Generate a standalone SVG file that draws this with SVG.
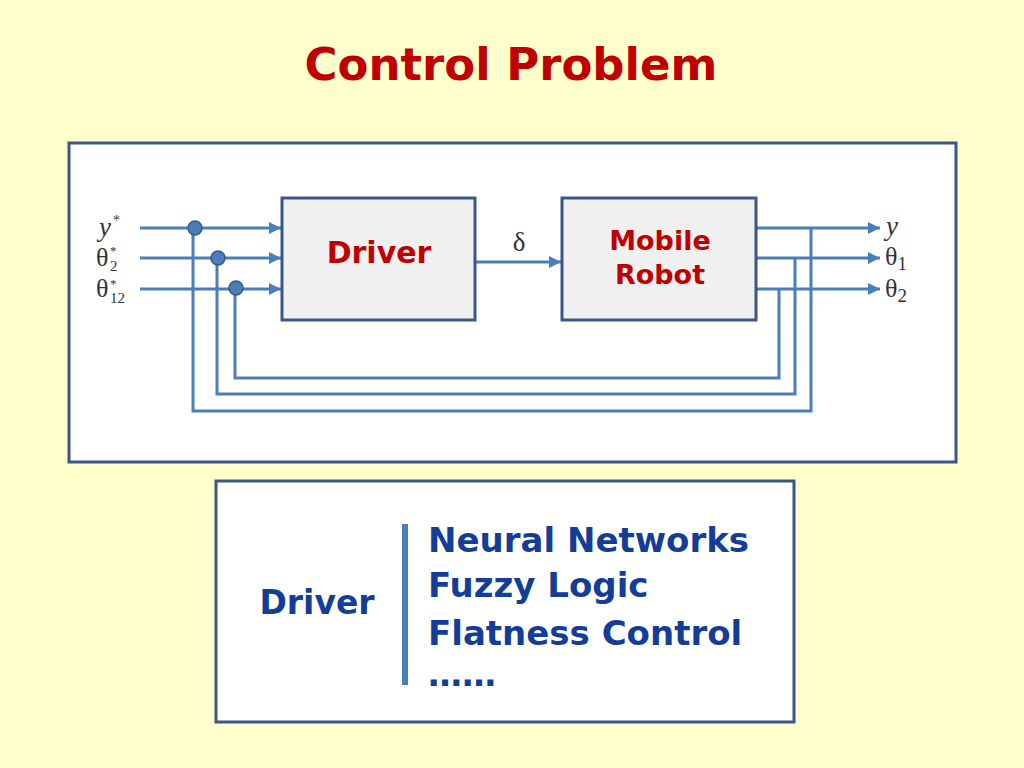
<svg xmlns="http://www.w3.org/2000/svg" width="1024" height="768" viewBox="0 0 1024 768">
<style>
.t{font-family:"DejaVu Sans",Verdana,sans-serif;font-weight:bold}
.red{fill:#c00000}
.blue{fill:#133d96}
.blk{fill:#f0f0f0;stroke:#3b5785;stroke-width:3}
.ln{fill:none;stroke:#4a7ebb;stroke-width:3}
.m{font-family:"Liberation Serif","Times New Roman",serif;fill:#333}
</style>
<defs>
<marker id="ah" viewBox="0 0 10 10" refX="10" refY="5" markerWidth="16" markerHeight="12" markerUnits="userSpaceOnUse" orient="auto">
<path d="M0,0 L10,5 L0,10 z" fill="#4a7ebb"/>
</marker>
</defs>
<rect width="1024" height="768" fill="#ffffcc"/>
<text class="t red" x="511" y="80" font-size="45" text-anchor="middle">Control Problem</text>
<rect x="69" y="143" width="887" height="319" fill="#fff" stroke="#3b5785" stroke-width="3"/>
<g id="connectors">
<line class="ln" x1="140" y1="228" x2="281" y2="228" marker-end="url(#ah)"/>
<line class="ln" x1="140" y1="258" x2="281" y2="258" marker-end="url(#ah)"/>
<line class="ln" x1="140" y1="289" x2="281" y2="289" marker-end="url(#ah)"/>
<line class="ln" x1="476" y1="262" x2="561" y2="262" marker-end="url(#ah)"/>
<line class="ln" x1="757" y1="228" x2="880" y2="228" marker-end="url(#ah)"/>
<line class="ln" x1="757" y1="258" x2="880" y2="258" marker-end="url(#ah)"/>
<line class="ln" x1="757" y1="289" x2="880" y2="289" marker-end="url(#ah)"/>
<polyline class="ln" points="811,228 811,411 193,411 193,228"/>
<polyline class="ln" points="795,258 795,394 217,394 217,258"/>
<polyline class="ln" points="779,289 779,378 235,378 235,289"/>
<g fill="#4a7ebb" stroke="#3b5785" stroke-width="1.5">
<circle cx="195" cy="228" r="7"/>
<circle cx="218" cy="258" r="7"/>
<circle cx="236" cy="288" r="7"/>
</g>
</g>
<g id="labels-in">
<text class="m" x="99" y="236" font-size="27" font-style="italic">y</text>
<text class="m" x="113" y="225" font-size="14">*</text>
<text class="m" x="96" y="266" font-size="26">θ</text>
<text class="m" x="110" y="255" font-size="13">*</text>
<text class="m" x="110" y="271" font-size="15">2</text>
<text class="m" x="96" y="297" font-size="26">θ</text>
<text class="m" x="110" y="288" font-size="13">*</text>
<text class="m" x="110" y="303" font-size="15">12</text>
</g>
<g id="driver">
<rect class="blk" x="282" y="198" width="193" height="122"/>
<text class="t red" x="379" y="263" font-size="30" text-anchor="middle">Driver</text>
</g>
<text class="m" x="519" y="251" font-size="27" text-anchor="middle">δ</text>
<g id="robot">
<rect class="blk" x="562" y="198" width="194" height="122"/>
<text class="t red" x="660" y="250" font-size="27" text-anchor="middle">Mobile</text>
<text class="t red" x="660" y="284" font-size="27" text-anchor="middle">Robot</text>
</g>
<g id="labels-out">
<text class="m" x="886" y="235" font-size="27" font-style="italic">y</text>
<text class="m" x="885" y="265" font-size="26">θ<tspan font-size="19" dy="5">1</tspan></text>
<text class="m" x="885" y="297" font-size="26">θ<tspan font-size="19" dy="5">2</tspan></text>
</g>
<g id="methods">
<rect x="216" y="481" width="578" height="241" fill="#fff" stroke="#3b5785" stroke-width="3"/>
<text class="t blue" x="317" y="614" font-size="33" text-anchor="middle">Driver</text>
<rect x="402" y="524" width="6" height="161" fill="#4a7ebb"/>
<text class="t blue" x="428" y="552" font-size="34">Neural Networks</text>
<text class="t blue" x="428" y="597" font-size="34">Fuzzy Logic</text>
<text class="t blue" x="428" y="645" font-size="34">Flatness Control</text>
<text class="t blue" x="428" y="686" font-size="34">……</text>
</g>
</svg>
